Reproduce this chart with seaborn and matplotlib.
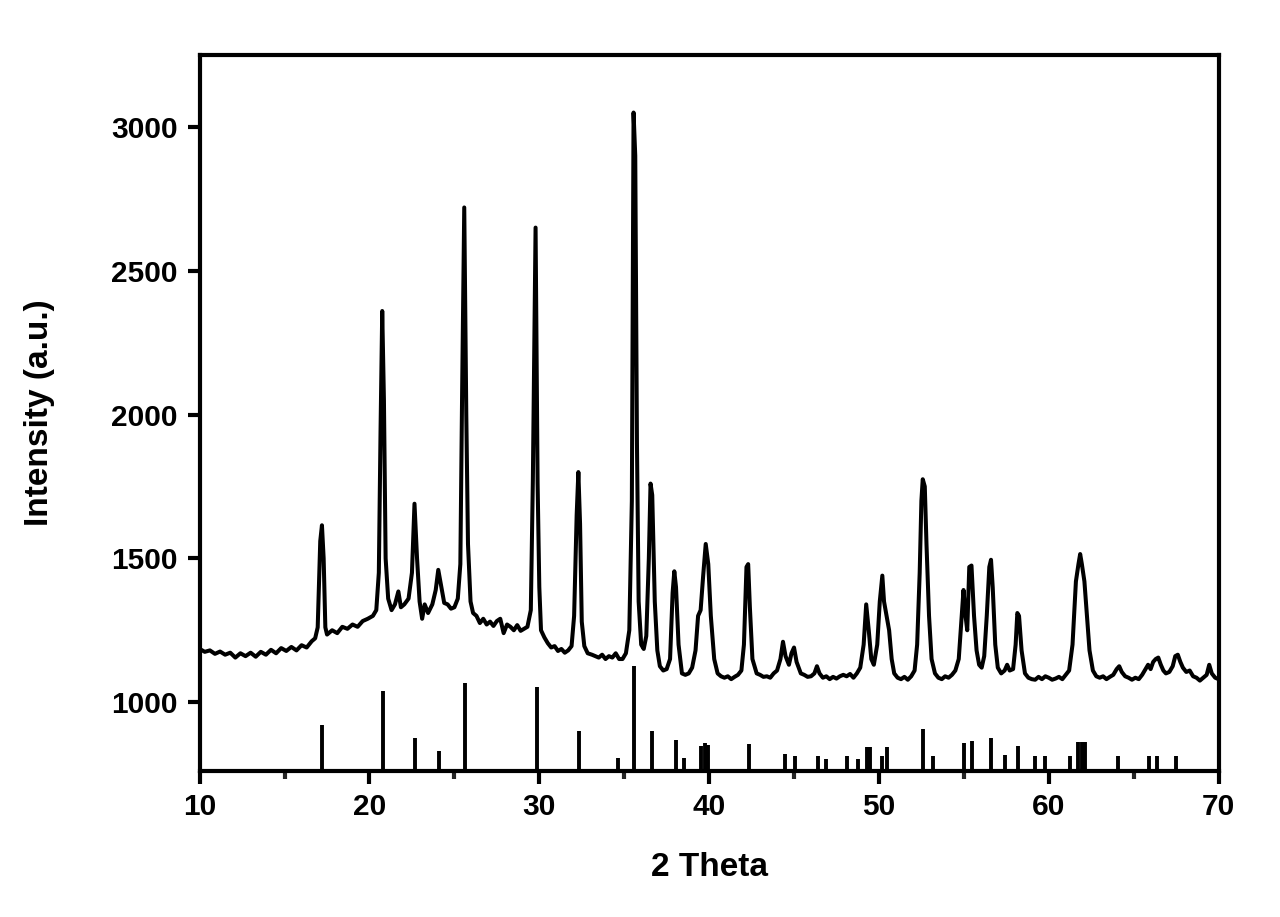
import matplotlib
matplotlib.use('Agg')
import matplotlib.pyplot as plt
import seaborn as sns
from matplotlib.ticker import MultipleLocator

two_theta = [
    10.0, 10.3, 10.6, 10.9, 11.2, 11.5, 11.8, 12.1, 12.4, 12.7, 13.0, 13.3, 13.6, 13.9, 14.2, 14.5,
    14.8, 15.1, 15.4, 15.7, 16.0, 16.3, 16.6, 16.8, 16.95, 17.1, 17.2, 17.3, 17.4, 17.5, 17.8, 18.1,
    18.4, 18.7, 19.0, 19.3, 19.6, 19.9, 20.2, 20.4, 20.55, 20.65, 20.75, 20.85, 20.95, 21.1, 21.3,
    21.5, 21.7, 21.85, 22.05, 22.3, 22.5, 22.65, 22.8, 22.95, 23.1, 23.25, 23.45, 23.7, 23.9, 24.05,
    24.2, 24.4, 24.6, 24.8, 25.0, 25.2, 25.35, 25.45, 25.58, 25.7, 25.8, 25.95, 26.1, 26.3, 26.5,
    26.7, 26.9, 27.1, 27.3, 27.5, 27.7, 27.9, 28.1, 28.3, 28.5, 28.7, 28.9, 29.1, 29.3, 29.5, 29.62,
    29.78, 29.9, 30.0, 30.1, 30.3, 30.5, 30.7, 30.9, 31.1, 31.3, 31.5, 31.7, 31.9, 32.05, 32.2, 32.3,
    32.4, 32.5, 32.65, 32.85, 33.1, 33.3, 33.5, 33.7, 33.9, 34.1, 34.3, 34.5, 34.7, 34.9, 35.1, 35.3,
    35.45, 35.55, 35.65, 35.75, 35.85, 36.0, 36.15, 36.3, 36.45, 36.55, 36.65, 36.8, 36.95, 37.1,
    37.3, 37.5, 37.7, 37.85, 37.95, 38.05, 38.2, 38.4, 38.6, 38.8, 39.0, 39.2, 39.35, 39.5, 39.65,
    39.8, 39.95, 40.1, 40.3, 40.5, 40.7, 40.9, 41.1, 41.3, 41.5, 41.7, 41.9, 42.05, 42.2, 42.3, 42.4,
    42.55, 42.8, 43.0, 43.2, 43.4, 43.6, 43.8, 44.0, 44.2, 44.35, 44.5, 44.7, 44.85, 45.0, 45.15,
    45.4, 45.6, 45.8, 46.0, 46.2, 46.35, 46.5, 46.7, 46.9, 47.1, 47.3, 47.5, 47.7, 47.9, 48.1, 48.3,
    48.5, 48.7, 48.9, 49.1, 49.25, 49.4, 49.55, 49.7, 49.9, 50.05, 50.2, 50.3, 50.45, 50.6, 50.75,
    50.9, 51.1, 51.3, 51.5, 51.7, 51.9, 52.1, 52.25, 52.4, 52.5, 52.58, 52.7, 52.8, 52.95, 53.1,
    53.3, 53.5, 53.7, 53.9, 54.1, 54.3, 54.5, 54.7, 54.85, 54.98, 55.1, 55.2, 55.32, 55.45, 55.6,
    55.75, 55.9, 56.05, 56.2, 56.35, 56.5, 56.6, 56.7, 56.85, 57.0, 57.2, 57.4, 57.55, 57.7, 57.9,
    58.05, 58.15, 58.25, 58.4, 58.6, 58.8, 59.0, 59.2, 59.4, 59.6, 59.8, 60.0, 60.2, 60.4, 60.6,
    60.8, 61.0, 61.2, 61.4, 61.6, 61.75, 61.85, 61.95, 62.1, 62.25, 62.4, 62.6, 62.8, 63.0, 63.2,
    63.4, 63.6, 63.8, 64.0, 64.15, 64.3, 64.5, 64.7, 64.9, 65.1, 65.3, 65.5, 65.7, 65.85, 66.0,
    66.15, 66.3, 66.45, 66.6, 66.75, 66.9, 67.1, 67.3, 67.45, 67.6, 67.75, 67.9, 68.1, 68.3, 68.5,
    68.7, 68.9, 69.1, 69.3, 69.45, 69.6, 69.8, 70.0,
]
intensity = [
    1185, 1175, 1180, 1168, 1176, 1165, 1172, 1155, 1170, 1160, 1172, 1158, 1175, 1165, 1182, 1170,
    1188, 1178, 1192, 1180, 1198, 1190, 1212, 1222, 1260, 1560, 1615, 1500, 1260, 1235, 1250, 1240,
    1262, 1255, 1270, 1262, 1282, 1290, 1300, 1320, 1450, 1940, 2360, 2050, 1500, 1360, 1320,
    1340, 1385, 1330, 1340, 1360, 1450, 1690, 1500, 1350, 1290, 1340, 1310, 1340, 1390, 1460,
    1410, 1345, 1340, 1325, 1330, 1360, 1480, 2050, 2720, 2000, 1550, 1350, 1310, 1300, 1275,
    1290, 1270, 1280, 1265, 1282, 1290, 1240, 1270, 1262, 1250, 1268, 1248, 1255, 1262, 1320, 1770,
    2650, 1760, 1400, 1250, 1225, 1205, 1190, 1195, 1178, 1185, 1172, 1180, 1195, 1300, 1650, 1800,
    1620, 1280, 1195, 1170, 1165, 1160, 1155, 1165, 1150, 1160, 1155, 1170, 1150, 1150, 1170, 1250,
    1700, 3050, 2900, 1900, 1350, 1200, 1185, 1230, 1500, 1760, 1720, 1350, 1180, 1125,
    1110, 1115, 1150, 1380, 1455, 1400, 1200, 1100, 1095, 1100, 1120, 1180, 1300, 1320, 1440,
    1550, 1480, 1300, 1150, 1100, 1090, 1085, 1090, 1080, 1088, 1095, 1110, 1200, 1470, 1480, 1330,
    1150, 1100, 1095, 1088, 1090, 1085, 1100, 1110, 1150, 1210, 1160, 1130, 1170, 1190, 1140,
    1100, 1095, 1088, 1090, 1100, 1125, 1100, 1085, 1090, 1080, 1088, 1082, 1090, 1095, 1090, 1098,
    1085, 1100, 1120, 1200, 1340, 1250, 1150, 1130, 1200, 1350, 1440, 1350, 1300, 1250, 1150,
    1100, 1085, 1080, 1088, 1078, 1090, 1110, 1200, 1450, 1700, 1775, 1750, 1550, 1300, 1150,
    1100, 1085, 1080, 1090, 1085, 1095, 1110, 1150, 1280, 1390, 1300, 1250, 1470, 1475, 1300,
    1180, 1130, 1120, 1160, 1300, 1470, 1495, 1400, 1200, 1120, 1100, 1110, 1130, 1110, 1115,
    1200, 1310, 1300, 1180, 1100, 1085, 1080, 1078, 1088, 1080, 1090, 1085, 1078, 1082, 1088,
    1080, 1095, 1110, 1200, 1420, 1480, 1515, 1480, 1420, 1300, 1180, 1110, 1090, 1085, 1090,
    1080, 1088, 1095, 1115, 1125, 1105, 1090, 1085, 1078, 1085, 1080, 1095, 1115, 1130, 1115,
    1140, 1150, 1155, 1130, 1110, 1100, 1105, 1125, 1160, 1165, 1140, 1120, 1105, 1110, 1090,
    1085, 1075, 1085, 1095, 1130, 1100, 1085, 1080,
]

# reference pattern sticks
ref_pos = [17.2, 20.8, 22.7, 24.1, 25.65, 29.85, 32.35, 34.65, 35.6, 36.65, 38.05, 38.5,
           39.5, 39.75, 39.95, 42.35, 44.45, 45.05, 46.4, 46.9, 48.1, 48.75, 49.3, 49.45,
           50.2, 50.5, 52.6, 53.2, 55.0, 55.5, 56.6, 57.45, 58.2, 59.2, 59.8, 61.25,
           61.75, 61.95, 62.15, 64.1, 65.9, 66.4, 67.5]
ref_int = [922, 1040, 874, 830, 1067, 1052, 901, 806, 1125, 901, 870, 806,
           847, 858, 850, 853, 820, 814, 814, 803, 812, 803, 843, 843,
           814, 843, 905, 814, 858, 864, 876, 817, 847, 812, 812, 812,
           862, 862, 862, 812, 812, 812, 814]

sns.set_style('ticks')
plt.rcParams['font.family'] = ['Liberation Sans', 'DejaVu Sans']
plt.rcParams['font.weight'] = 'bold'

fig = plt.figure(figsize=(12.8, 9.17), dpi=100)
ax = fig.add_axes([0.156, 0.159, 0.796, 0.781])

y_min = 760
sns.lineplot(x=two_theta, y=intensity, ax=ax, color='black', linewidth=2.9,
             estimator=None, sort=False)
ax.vlines(ref_pos, y_min, ref_int, color='black', linewidth=2.8)

ax.set_xlim(10, 70)
ax.set_ylim(y_min, 3250)
ax.xaxis.set_major_locator(MultipleLocator(10))
ax.xaxis.set_minor_locator(MultipleLocator(5))
ax.set_yticks([1000, 1500, 2000, 2500, 3000])

for s in ax.spines.values():
    s.set_linewidth(3.0)
    s.set_color('black')
ax.tick_params(axis='both', which='major', direction='out', length=9, width=3.0,
               labelsize=21.5, pad=7, colors='black')
ax.tick_params(axis='x', which='minor', direction='out', length=6, width=3.0)
ax.tick_params(top=False, right=False)
for lab in ax.get_xticklabels() + ax.get_yticklabels():
    lab.set_fontweight('bold')

ax.set_xlabel('2 Theta', fontsize=24, fontweight='bold', color='black', labelpad=22)
ax.set_ylabel('Intensity (a.u.)', fontsize=24, fontweight='bold', color='black', labelpad=40)

fig.savefig('out.png', dpi=100, facecolor='white')
